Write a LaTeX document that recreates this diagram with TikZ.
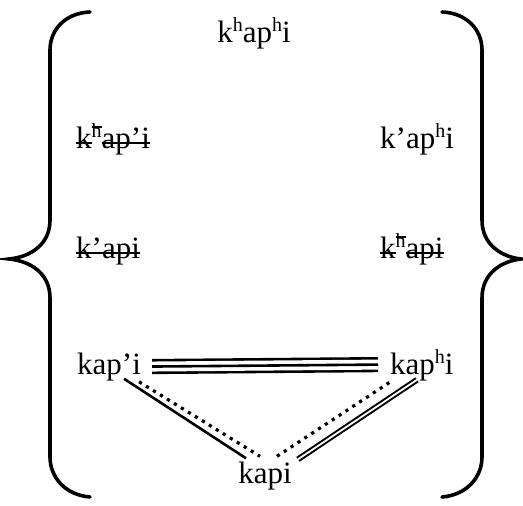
\documentclass[tikz,border=0pt]{standalone}
\usepackage{fontspec}
\setmainfont{Liberation Serif}
\usetikzlibrary{positioning}

\newsavebox\strkbox
\newcommand\strk[2][0.32ex]{\sbox\strkbox{#2}\rlap{\usebox\strkbox}\rule[#1]{\wd\strkbox}{2.2pt}}
\newcommand\hsup{\raisebox{11.5pt}{\fontsize{20}{20}\selectfont h}}
\newcommand\hsupstk{\raisebox{11.5pt}{\fontsize{20}{20}\selectfont\strk[9.5pt]{h}}}

\tikzset{
    word/.style={anchor=base west, inner sep=0pt, font=\fontsize{31}{36}\selectfont},
    brace/.style={line width=3.6pt, line cap=round},
    tripleouter/.style={line width=2.6pt, double distance=10pt},
    tripleinner/.style={line width=2.6pt},
    solidline/.style={line width=2.6pt},
    dotline/.style={line width=3.2pt, dash pattern=on 3.2pt off 5pt},
    dblline/.style={line width=2pt, double distance=1.8pt}
}

\begin{document}
\begin{tikzpicture}[x=1pt, y=1pt]
        \useasboundingbox (0,0) rectangle (523,506);

        % ----------------------------------------------------
        % BRACES
        % ----------------------------------------------------
        \draw[brace] (90,494) .. controls (65,493) and (50,476) .. (50,456) -- (50,286)
            .. controls (50,261) and (30,249) .. (9,247)
            .. controls (30,245) and (50,233) .. (50,208) -- (50,49)
            .. controls (50,29) and (65,11) .. (90,9);
        \draw[brace] (442,494) .. controls (467,493) and (482,476) .. (482,456) -- (482,286)
            .. controls (482,261) and (502,249) .. (521,247)
            .. controls (502,245) and (482,233) .. (482,208) -- (482,49)
            .. controls (482,29) and (467,11) .. (442,9);

        % ----------------------------------------------------
        % CANDIDATES
        % ----------------------------------------------------
        \node[word, anchor=base] (khaphi) at (254,463) {k\hsup ap\hsup i};
        \node[word] (khapqi) at (76,357) {\strk{k}\hsupstk\strk{ap’i}};
        \node[word] (kqaphi) at (380,357) {k’ap\hsup i};
        \node[word] (kqapi) at (76,247) {\strk{k’api}};
        \node[word] (khapi) at (380,247) {\strk{k}\hsupstk\strk{api}};
        \node[word] (kapqi) at (77,131) {kap’i};
        \node[word] (kaphi) at (390,131) {kap\hsup i};
        \node[word, anchor=base] (kapi) at (265,22) {kapi};

        % ----------------------------------------------------
        % CONNECTORS
        % ----------------------------------------------------
        \draw[tripleouter] ([shift={(11,1)}]kapqi.east) -- ([shift={(-12,1)}]kaphi.west);
        \draw[tripleinner] ([shift={(11,1)}]kapqi.east) -- ([shift={(-12,1)}]kaphi.west);
        \draw[solidline] ([shift={(-17,3)}]kapqi.south east) -- ([shift={(-19,4)}]kapi.north);
        \draw[dotline] ([shift={(-2,0)}]kapqi.south east) -- ([shift={(-5,6)}]kapi.north);
        \draw[dotline] ([shift={(12,6)}]kapi.north) -- ([shift={(2,1)}]kaphi.south west);
        \draw[dblline] ([shift={(33,3)}]kapi.north) -- ([shift={(27,2)}]kaphi.south west);
    \end{tikzpicture}
\end{document}
